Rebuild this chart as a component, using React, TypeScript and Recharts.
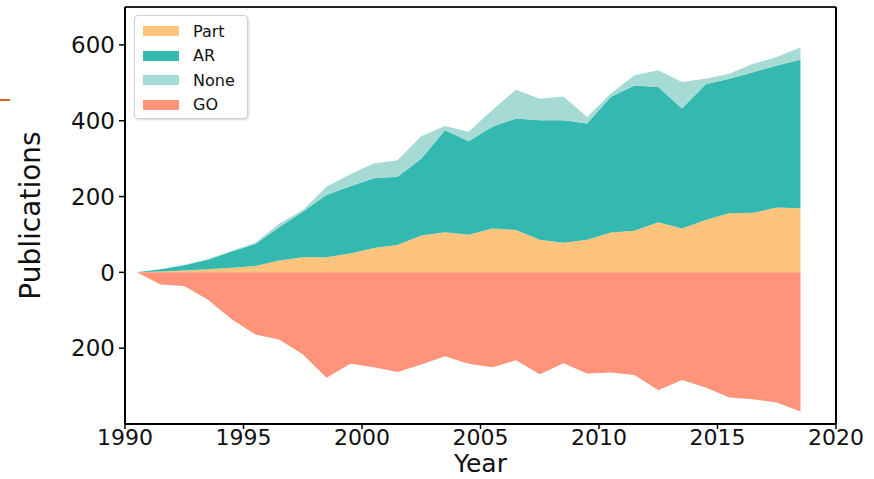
import { AreaChart, Area, XAxis, YAxis, ReferenceLine, Label } from 'recharts'

const years = [
  1990.5, 1991.5, 1992.5, 1993.5, 1994.5, 1995.5, 1996.5, 1997.5, 1998.5, 1999.5,
  2000.5, 2001.5, 2002.5, 2003.5, 2004.5, 2005.5, 2006.5, 2007.5, 2008.5, 2009.5,
  2010.5, 2011.5, 2012.5, 2013.5, 2014.5, 2015.5, 2016.5, 2017.5, 2018.5,
]
const part = [0, 2, 5, 8, 12, 17, 31, 40, 40, 50, 64, 72, 97, 106, 99, 116, 112, 86, 78, 86, 105, 110, 132, 116, 138, 156, 157, 171, 169]
const ar = [0, 6, 14, 25, 43, 58, 88, 120, 164, 177, 184, 180, 203, 269, 247, 268, 294, 315, 323, 307, 358, 383, 357, 316, 358, 355, 371, 375, 392]
const none = [0, 0, 1, 2, 2, 3, 9, 4, 22, 32, 39, 44, 59, 11, 25, 44, 76, 57, 63, 17, 9, 27, 44, 70, 15, 13, 22, 22, 32]
const go = [0, -32, -36, -72, -124, -164, -177, -216, -278, -241, -250, -263, -243, -221, -241, -250, -232, -269, -240, -267, -264, -271, -311, -284, -304, -330, -335, -343, -367]

const xTicks = [1990, 1995, 2000, 2005, 2010, 2015, 2020]
const yTicks = [-200, 0, 200, 400, 600]

const colors = { Part: '#fdc47e', AR: '#33b9b0', None: '#a6dad4', GO: '#ff947a' }
const legendItems = ['Part', 'AR', 'None', 'GO'] as const

const data = years.map((year, i) => ({ year, Part: part[i], AR: ar[i], None: none[i], GO: go[i] }))

const font = 'DejaVu Sans, sans-serif'

function LegendBox() {
  return (
    <div
      style={{
        position: 'absolute',
        left: 134,
        top: 15,
        width: 114,
        height: 104,
        boxSizing: 'border-box',
        border: '1px solid #d0d0d0',
        borderRadius: 4,
        background: '#fff',
        boxShadow: '1px 1px 2px rgba(0,0,0,0.15)',
        padding: '3px 0 0 8px',
        fontFamily: font,
        fontSize: 16,
        color: '#111',
      }}
    >
      {legendItems.map((k) => (
        <div key={k} style={{ display: 'flex', alignItems: 'center', height: 24.5 }}>
          <span style={{ width: 36, height: 10, background: colors[k], display: 'inline-block' }} />
          <span style={{ marginLeft: 14 }}>{k}</span>
        </div>
      ))}
    </div>
  )
}

export default function App() {
  return (
    <div style={{ position: 'absolute', left: 0, top: 0, width: 874, height: 479, background: '#fff' }}>
      <div style={{ position: 'absolute', left: 0, top: 99, width: 10, height: 2, background: '#d9641e' }} />
      <AreaChart width={874} height={479} data={data} margin={{ top: 7, right: 38, bottom: 0, left: 0 }}>
        <XAxis
          dataKey="year"
          type="number"
          domain={[1990, 2020]}
          ticks={xTicks}
          allowDataOverflow
          height={55}
          stroke="#000"
          axisLine={{ stroke: '#000', strokeWidth: 2 }}
          tickLine={{ stroke: '#000', strokeWidth: 1.5 }}
          tickSize={5}
          tickMargin={0}
          tick={{ fill: '#111', fontSize: 22, fontFamily: font }}
        >
          <Label value="Year" position="insideBottom" offset={7} style={{ fill: '#111', fontSize: 25, fontFamily: font }} />
        </XAxis>
        <YAxis
          type="number"
          domain={[-400, 700]}
          ticks={yTicks}
          allowDataOverflow
          width={125}
          stroke="#000"
          axisLine={{ stroke: '#000', strokeWidth: 2 }}
          tickLine={{ stroke: '#000', strokeWidth: 1.5 }}
          tickSize={6}
          tickMargin={4}
          tickFormatter={(v: number) => String(Math.abs(v))}
          tick={{ fill: '#111', fontSize: 23, fontFamily: font }}
        >
          <Label
            value="Publications"
            angle={-90}
            position="insideLeft"
            offset={30}
            style={{ textAnchor: 'middle', fill: '#111', fontSize: 28, fontFamily: font }}
          />
        </YAxis>
        <Area type="linear" dataKey="Part" stackId="pos" stroke="none" fill={colors.Part} fillOpacity={1} isAnimationActive={false} />
        <Area type="linear" dataKey="AR" stackId="pos" stroke="none" fill={colors.AR} fillOpacity={1} isAnimationActive={false} />
        <Area type="linear" dataKey="None" stackId="pos" stroke="none" fill={colors.None} fillOpacity={1} isAnimationActive={false} />
        <Area type="linear" dataKey="GO" stroke="none" fill={colors.GO} fillOpacity={1} baseValue={0} isAnimationActive={false} />
        <ReferenceLine y={700} stroke="#222" strokeWidth={2} />
        <ReferenceLine x={2020} stroke="#000" strokeWidth={2} />
      </AreaChart>
      <LegendBox />
    </div>
  )
}
